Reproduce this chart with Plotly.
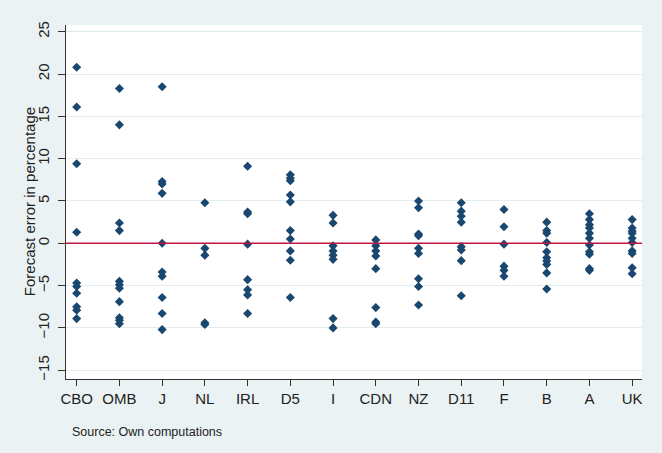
import plotly.graph_objects as go

categories = ["CBO", "OMB", "J", "NL", "IRL", "D5", "I", "CDN", "NZ", "D11", "F", "B", "A", "UK"]

cbo = [20.8, 16.1, 9.4, 1.3, -4.7, -5.1, -5.9, -7.5, -7.9, -8.9]
omb = [18.3, 14.0, 2.4, 1.5, -4.5, -4.9, -5.3, -6.9, -8.8, -9.1, -9.5]
j = [18.5, 7.3, 7.0, 5.9, 0.0, -3.4, -3.9, -6.4, -8.3, -10.2]
nl = [4.8, -0.6, -1.4, -9.4, -9.6]
irl = [9.1, 3.7, 3.5, -0.1, -4.3, -5.5, -6.1, -8.3]
d5 = [8.1, 7.7, 7.4, 5.7, 4.9, 1.5, 0.5, -0.9, -2.0, -6.4]
i_ = [3.3, 2.4, -0.3, -0.9, -1.4, -1.9, -8.9, -10.0]
cdn = [0.4, -0.3, -0.9, -1.5, -3.0, -7.6, -9.3, -9.5]
nz = [5.0, 4.2, 1.1, 0.9, -0.6, -1.2, -4.2, -5.1, -7.3]
d11 = [4.8, 3.8, 3.2, 2.5, -0.4, -0.8, -2.05, -6.2]
f = [4.0, 1.96, -0.1, -2.7, -3.2, -3.9]
b = [2.5, 1.5, 1.2, 0.1, -1.0, -1.7, -2.1, -2.5, -3.5, -5.4]
a = [3.5, 2.8, 2.2, 1.8, 1.2, 0.6, -0.2, -1.0, -1.3, -3.0, -3.2]
uk = [2.8, 1.8, 1.45, 1.2, 0.6, 0.1, -0.9, -1.2, -2.9, -3.6]

series = [cbo, omb, j, nl, irl, d5, i_, cdn, nz, d11, f, b, a, uk]

y_ticks = [-15, -10, -5, 0, 5, 10, 15, 20, 25]

xs, ys = [], []
for cat, vals in zip(categories, series):
    for v in vals:
        xs.append(cat)
        ys.append(v)

FONT = "Liberation Sans, Arial, sans-serif"
TXT = "#222222"

fig = go.Figure()
fig.add_trace(go.Scatter(
    x=xs, y=ys, mode="markers",
    marker=dict(symbol="diamond", size=7, color="#1a476f", line=dict(width=0)),
    showlegend=False,
))

fig.add_shape(type="line", xref="paper", x0=0, x1=1, yref="y", y0=0, y1=0,
              line=dict(color="#c0163f", width=1.5), layer="above")

fig.update_layout(
    width=662, height=453,
    margin=dict(l=66, r=20, t=25, b=74),
    paper_bgcolor="#eaf2f3",
    plot_bgcolor="#ffffff",
    font=dict(family=FONT, size=15, color=TXT),
    xaxis=dict(
        type="category", categoryorder="array", categoryarray=categories,
        range=[-0.25, 13.23],
        showgrid=False, zeroline=False,
        showline=True, linecolor="#333333", linewidth=1.3,
        ticks="outside", ticklen=6, tickcolor="#333333", tickwidth=1,
        tickfont=dict(family=FONT, size=15, color=TXT),
    ),
    yaxis=dict(
        range=[-16.04, 25.8],
        tickvals=y_ticks,
        tickangle=-90,
        showgrid=True, gridcolor="#e3ecef", gridwidth=1,
        zeroline=False,
        showline=True, linecolor="#333333", linewidth=1.3,
        ticks="outside", ticklen=7, tickcolor="#333333", tickwidth=1,
        tickfont=dict(family=FONT, size=15, color=TXT),
        ticklabelstandoff=3,
    ),
    annotations=[
        dict(text="Forecast error in percentage", xref="paper", yref="paper",
             x=-0.064, y=0.5, xanchor="center", yanchor="middle", textangle=-90,
             showarrow=False, font=dict(family=FONT, size=15, color=TXT)),
        dict(text="Source: Own computations", xref="paper", yref="paper",
             x=(70 - 66) / 576, y=-(432 - 379) / 354, xanchor="left", yanchor="middle",
             showarrow=False, font=dict(family=FONT, size=12.5, color=TXT)),
    ],
)

fig.write_html("out.html")
